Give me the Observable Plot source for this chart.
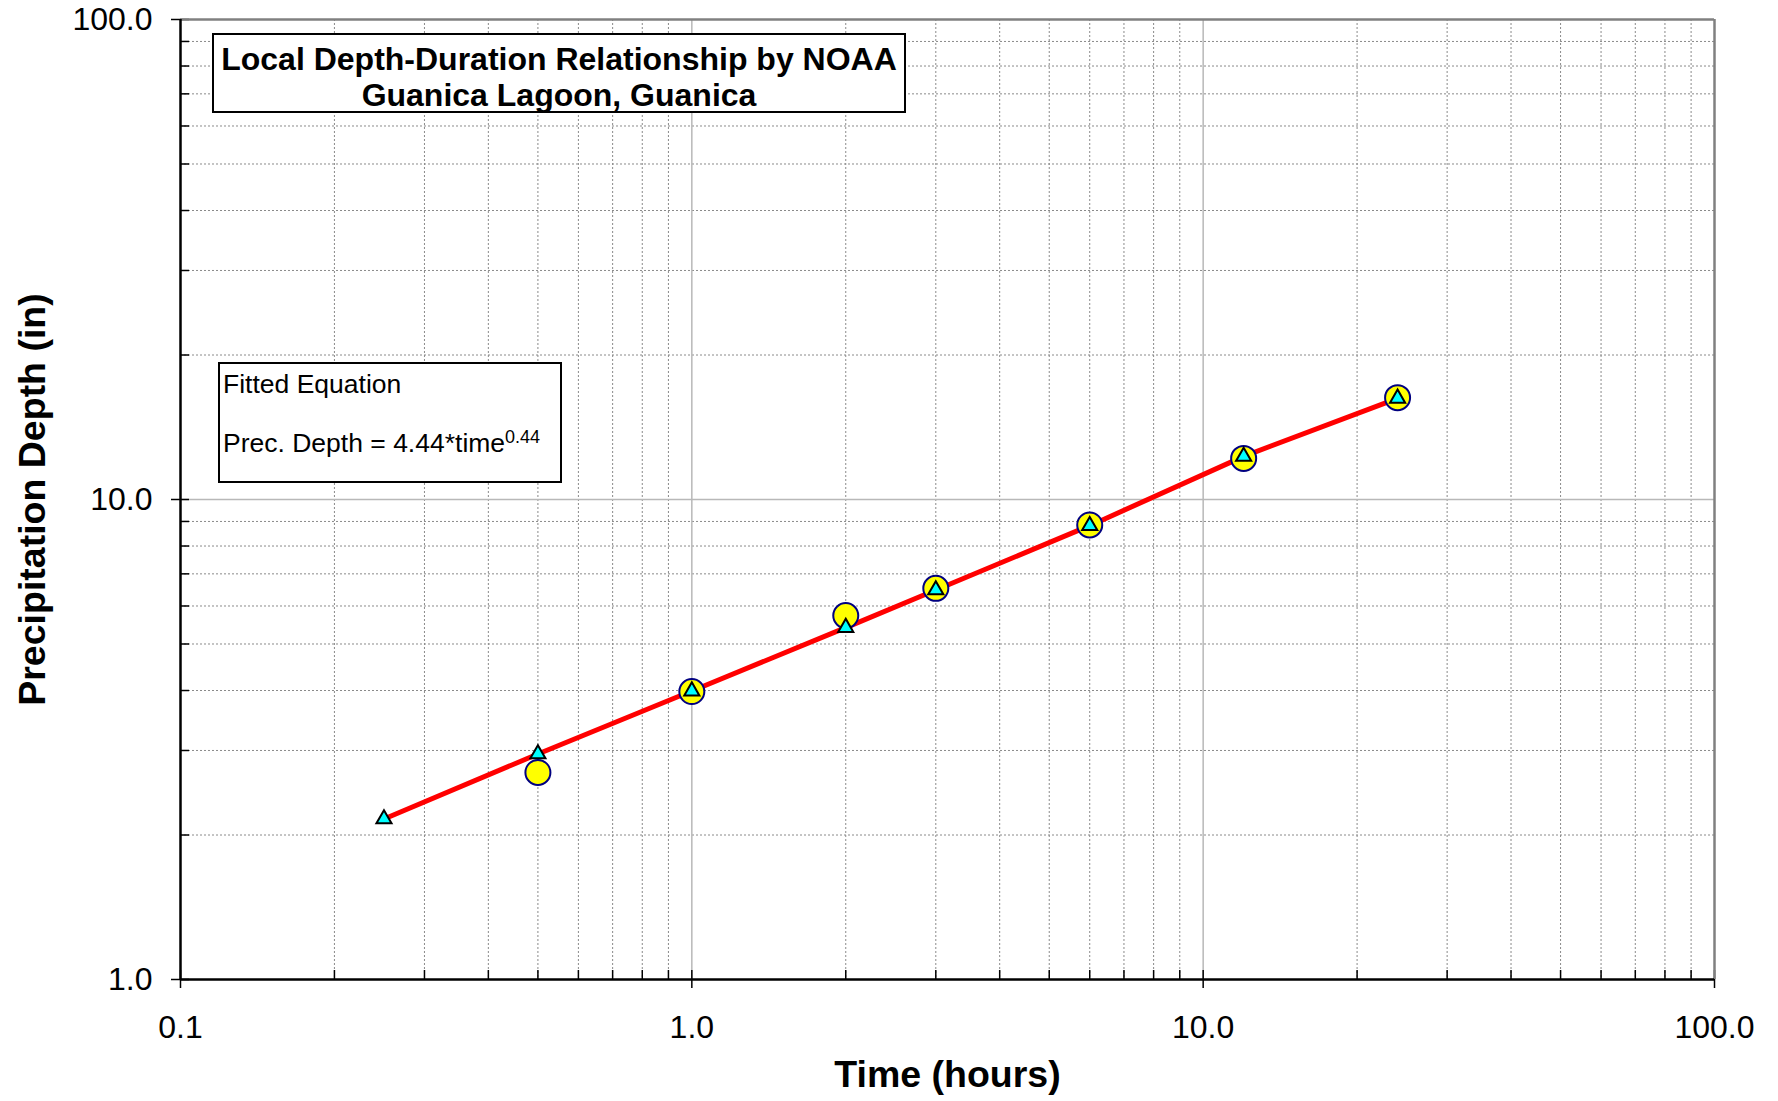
<!DOCTYPE html>
<html>
<head>
<meta charset="utf-8">
<script src="https://cdn.jsdelivr.net/npm/d3@7"></script>
<script src="https://cdn.jsdelivr.net/npm/@observablehq/plot@0.6"></script>
<style>
  html, body { margin: 0; padding: 0; background: #fff; overflow: hidden; }
  body { font-family: "Liberation Sans", Arial, sans-serif; color: #000; }
  #wrap { position: relative; width: 1778px; height: 1101px; }
  #wrap svg { display: block; }
  .box { position: absolute; background: #fff; border: 2px solid #000; box-sizing: border-box; }
  .line { position: absolute; white-space: nowrap; }
</style>
</head>
<body>
<div id="wrap"></div>
<script>
// ---- data ----
const durations   = [0.25, 0.5, 1, 2, 3, 6, 12, 24];            // hours (fitted curve points)
const fittedDepth = [2.16, 2.95, 3.99, 5.41, 6.48, 8.82, 12.30, 16.25]; // inches (triangles / red line)
const noaaDurations = [0.5, 1, 2, 3, 6, 12, 24];                 // hours (NOAA points)
const noaaDepth     = [2.70, 3.98, 5.73, 6.53, 8.85, 12.18, 16.30]; // inches (yellow circles)
const xTickValues = [0.1, 1, 10, 100];
const yTickValues = [1, 10, 100];
const titleLines = ["Local Depth-Duration Relationship by NOAA", "Guanica Lagoon, Guanica"];
const equationHeading = "Fitted Equation";
const equationText = "Prec. Depth = 4.44*time";
const equationExponent = "0.44";
const xLabel = "Time (hours)";
const yLabel = "Precipitation Depth (in)";

// ---- derived tables ----
const fitted = durations.map((t, i) => ({t, d: fittedDepth[i]}));
const noaa = noaaDurations.map((t, i) => ({t, d: noaaDepth[i]}));
const minorX = [];
for (const dec of [0.1, 1, 10]) for (let k = 2; k <= 9; k++) minorX.push(+(dec * k).toPrecision(3));
const minorY = [];
for (const dec of [1, 10]) for (let k = 2; k <= 9; k++) minorY.push(+(dec * k).toPrecision(3));

const W = 1778, H = 1101, mL = 180, mR = 64, mT = 19, mB = 122;
const plotW = W - mL - mR, plotH = H - mT - mB;
const fmt = d3.format(".1f");
const font = "Liberation Sans, Arial, sans-serif";

const chart = Plot.plot({
  width: W, height: H,
  marginLeft: mL, marginRight: mR, marginTop: mT, marginBottom: mB,
  style: {fontFamily: font, fontSize: "32px", color: "#000", background: "#fff"},
  x: {type: "log", domain: [0.1, 100]},
  y: {type: "log", domain: [1, 100]},
  marks: [
    // minor grid
    Plot.ruleX(minorX, {stroke: "#8a8a8a", strokeDasharray: "2,2", strokeWidth: 1}),
    Plot.ruleY(minorY, {stroke: "#8a8a8a", strokeDasharray: "2,2", strokeWidth: 1}),
    // major grid
    Plot.ruleX([1, 10], {stroke: "#b8b8b8", strokeWidth: 1.5}),
    Plot.ruleY([10], {stroke: "#b8b8b8", strokeWidth: 1.5}),
    // inward ticks
    Plot.ruleX(minorX.concat(xTickValues), {insetTop: plotH - 9, stroke: "#000", strokeWidth: 1.5}),
    Plot.ruleY(minorY.concat(yTickValues), {insetRight: plotW - 9, stroke: "#000", strokeWidth: 1.5}),
    // frame
    Plot.ruleY([100], {stroke: "#808080", strokeWidth: 2.5}),
    Plot.ruleX([100], {stroke: "#808080", strokeWidth: 2.5}),
    Plot.ruleY([1], {stroke: "#000", strokeWidth: 2.5}),
    Plot.ruleX([0.1], {stroke: "#000", strokeWidth: 2.5}),
    // axes
    Plot.axisX({ticks: xTickValues, tickFormat: fmt, tickSize: 9, tickPadding: 27, label: null, fontSize: 32, stroke: "#000", strokeWidth: 1.5}),
    Plot.axisY({ticks: yTickValues, tickFormat: fmt, tickSize: 9, tickPadding: 19, label: null, fontSize: 32, stroke: "#000", strokeWidth: 1.5}),
    // data
    Plot.line(fitted, {x: "t", y: "d", stroke: "#ff0000", strokeWidth: 5}),
    Plot.dot(noaa, {x: "t", y: "d", r: 12.5, fill: "#ffff00", stroke: "#000080", strokeWidth: 2}),
    Plot.dot(fitted, {x: "t", y: "d", symbol: "triangle", r: 5.6, fill: "#00ffff", stroke: "#000", strokeWidth: 2}),
    // axis titles
    Plot.text([xLabel], {text: d => d, frameAnchor: "bottom", dy: 107, fontSize: 37.5, fontWeight: "bold", fill: "#000"}),
    Plot.text([yLabel], {text: d => d, frameAnchor: "left", textAnchor: "middle", dx: -148, rotate: -90, fontSize: 37.5, fontWeight: "bold", fill: "#000"})
  ]
});

const wrap = document.getElementById("wrap");
wrap.appendChild(chart);

// title box
const tb = document.createElement("div");
tb.className = "box";
Object.assign(tb.style, {left: "212px", top: "32.5px", width: "694px", height: "80px"});
titleLines.forEach((s, i) => {
  const d = document.createElement("div");
  d.className = "line";
  d.textContent = s;
  Object.assign(d.style, {left: "0", width: "100%", textAlign: "center", top: (i === 0 ? 8 : 44.7) + "px",
    fontSize: "32px", lineHeight: "32px", fontWeight: "bold"});
  tb.appendChild(d);
});
wrap.appendChild(tb);

// equation box
const eb = document.createElement("div");
eb.className = "box";
Object.assign(eb.style, {left: "218px", top: "362px", width: "344px", height: "121px"});
const l1 = document.createElement("div");
l1.className = "line";
l1.textContent = equationHeading;
Object.assign(l1.style, {left: "3px", top: "6.5px", fontSize: "26.5px", lineHeight: "26.5px"});
eb.appendChild(l1);
const l2 = document.createElement("div");
l2.className = "line";
Object.assign(l2.style, {left: "3px", top: "65.5px", fontSize: "26.5px", lineHeight: "26.5px"});
l2.appendChild(document.createTextNode(equationText));
const sup = document.createElement("span");
sup.textContent = equationExponent;
Object.assign(sup.style, {fontSize: "18px", position: "relative", top: "-9px"});
l2.appendChild(sup);
eb.appendChild(l2);
wrap.appendChild(eb);
</script>
</body>
</html>
